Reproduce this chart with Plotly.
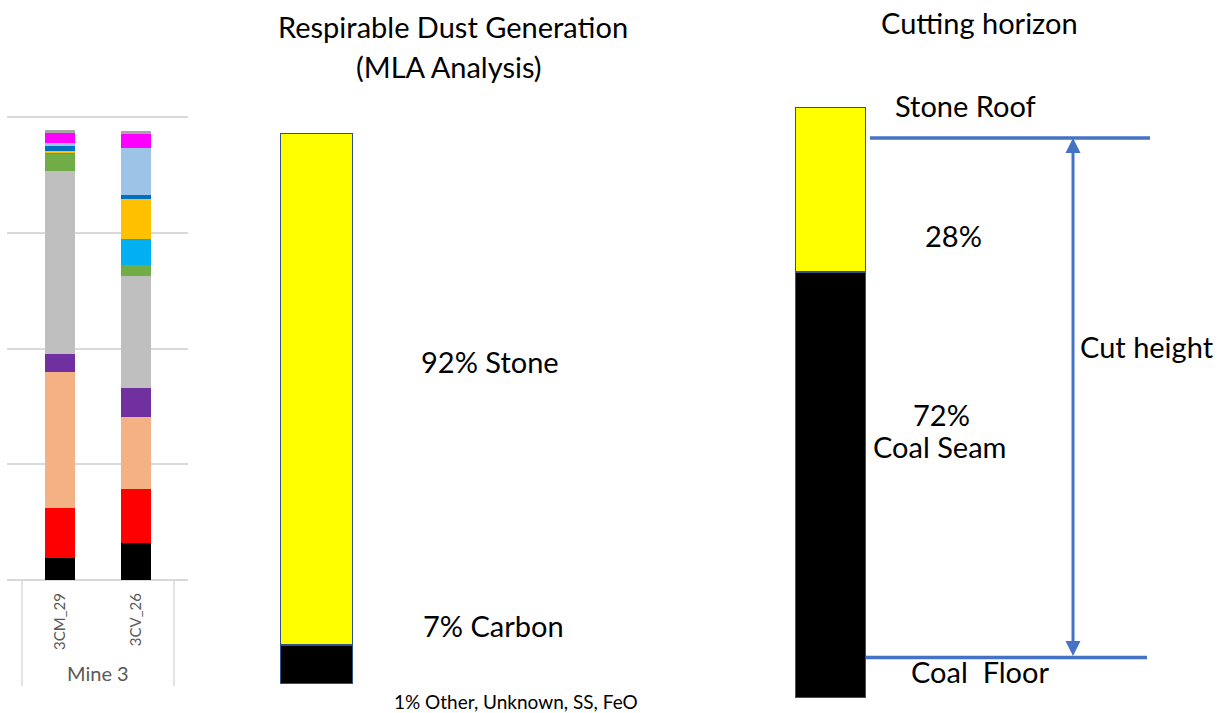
import plotly.graph_objects as go

# ---------------- data ----------------
# Left panel: mineral composition of respirable dust, Mine 3 samples (stacked, bottom to top)
samples = ["3CM_29", "3CV_26"]
fractions = [
    ("Carbon",        "#000000", [4.8, 8.1]),
    ("Fraction B",    "#FF0000", [10.9, 11.7]),
    ("Fraction C",    "#F4B183", [29.2, 15.4]),
    ("Fraction D",    "#7030A0", [4.0, 6.3]),
    ("Fraction E",    "#BFBFBF", [39.4, 24.2]),
    ("Fraction F",    "#70AD47", [3.8, 2.3]),
    ("Fraction G",    "#00B0F0", [0.4, 5.8]),
    ("Fraction H",    "#FFC000", [0.2, 8.5]),
    ("Fraction I",    "#0070C0", [1.2, 0.9]),
    ("Fraction J",    "#9DC3E6", [0.6, 10.1]),
    ("Fraction K",    "#FF00FF", [2.2, 3.0]),
    ("Other",         "#A6A6A6", [0.5, 0.8]),
]
group_label = "Mine 3"

# Middle panel: respirable dust generation (MLA analysis), percent
mla_parts = ["Carbon", "Stone"]
mla_values = [7, 92]
mla_colors = ["#000000", "#FFFF00"]

# Right panel: cutting horizon, percent of cut
horizon_parts = ["Coal Seam", "Stone Roof"]
horizon_values = [72, 28]
horizon_colors = ["#000000", "#FFFF00"]

# ---------------- layout helpers ----------------
W, H = 1222, 713
FONT = "Lato"
OUTLINE = "#2F528F"
BLUE = "#4472C4"
GRID = "#D9D9D9"


def fx(px):
    return px / W


def fy(py):
    return 1 - py / H


fig = go.Figure()

# left stacked columns
for name, color, vals in fractions:
    fig.add_trace(go.Bar(
        x=samples, y=vals, name=name, marker_color=color,
        marker_line_width=0, width=0.39, xaxis="x", yaxis="y",
        showlegend=False, hoverinfo="name+y",
    ))

# middle single stacked column
for name, color, v in zip(mla_parts, mla_colors, mla_values):
    fig.add_trace(go.Bar(
        x=["MLA"], y=[v], name=name, marker_color=color,
        marker_line=dict(color=OUTLINE, width=2), width=1,
        xaxis="x2", yaxis="y2", showlegend=False,
    ))

# right single stacked column
for name, color, v in zip(horizon_parts, horizon_colors, horizon_values):
    fig.add_trace(go.Bar(
        x=["Horizon"], y=[v], name=name, marker_color=color,
        marker_line=dict(color=OUTLINE, width=2), width=1,
        xaxis="x3", yaxis="y3", showlegend=False,
    ))

hidden = dict(visible=False, fixedrange=True)

fig.update_layout(
    width=W, height=H,
    margin=dict(l=0, r=0, t=0, b=0),
    paper_bgcolor="white", plot_bgcolor="rgba(0,0,0,0)",
    barmode="stack", bargap=0,
    font=dict(family=FONT, color="#000000"),
    xaxis=dict(
        domain=[fx(7), fx(188)], range=[-0.697, 1.684], type="category",
        showgrid=False, showline=False, zeroline=False, ticks="",
        tickangle=-90, ticklabelstandoff=9,
        tickfont=dict(family=FONT, size=15, color="#595959"),
    ),
    yaxis=dict(
        domain=[fy(580), fy(114.7)], range=[0, 100.5], dtick=25,
        showgrid=True, gridcolor=GRID, gridwidth=1.5,
        zeroline=True, zerolinecolor=GRID, zerolinewidth=1.5,
        showticklabels=False, ticks="", showline=False,
    ),
    xaxis2=dict(domain=[fx(280), fx(353)], range=[-0.5, 0.5], anchor="y2", **hidden),
    yaxis2=dict(domain=[fy(684), fy(133)], range=[0, sum(mla_values)], anchor="x2", **hidden),
    xaxis3=dict(domain=[fx(795), fx(866)], range=[-0.5, 0.5], anchor="y3", **hidden),
    yaxis3=dict(domain=[fy(698), fy(107)], range=[0, sum(horizon_values)], anchor="x3", **hidden),
)

shapes = []
# category group separators under the left chart
for xs in (22, 174):
    shapes.append(dict(type="line", xref="paper", yref="paper",
                       x0=fx(xs), x1=fx(xs), y0=fy(580), y1=fy(686),
                       line=dict(color=GRID, width=1.5)))
# cut height boundaries
shapes.append(dict(type="line", xref="paper", yref="paper",
                   x0=fx(870), x1=fx(1150), y0=fy(138), y1=fy(138),
                   line=dict(color=BLUE, width=3.5)))
shapes.append(dict(type="line", xref="paper", yref="paper",
                   x0=fx(866), x1=fx(1147), y0=fy(657.5), y1=fy(657.5),
                   line=dict(color=BLUE, width=3.5)))
fig.update_layout(shapes=shapes)


def label(text, x, y, size=29, color="#000000", **kw):
    fig.add_annotation(text=text, x=fx(x), y=fy(y), xref="paper", yref="paper",
                       showarrow=False, xanchor="center", yanchor="middle",
                       font=dict(family=FONT, size=size, color=color), **kw)


label(group_label, 98, 673, size=20, color="#595959")
label("Respirable Dust Generation", 453, 26)
label("(MLA Analysis)", 449, 67)
label("Cutting horizon", 979, 23)
label(f"{mla_values[1]}% Stone", 490, 361)
label(f"{mla_values[0]}% Carbon", 494, 625)
label("1% Other, Unknown, SS, FeO", 516, 701, size=19)
label(horizon_parts[1], 965, 105)
label(f"{horizon_values[1]}%", 953, 235)
label(f"{horizon_values[0]}%", 941, 415)
label(horizon_parts[0], 939, 447)
label("Cut height", 1147, 346)
label("Coal  Floor", 980, 671)

# double-headed cut height arrow
fig.add_annotation(
    x=fx(1073), y=fy(138), xref="paper", yref="paper",
    ax=0, ay=657.5 - 138, axref="pixel", ayref="pixel",
    text="", showarrow=True, arrowside="end+start", arrowhead=2,
    arrowsize=1, arrowwidth=3, arrowcolor=BLUE, standoff=0, startstandoff=0,
)

fig.write_html("out.html")
